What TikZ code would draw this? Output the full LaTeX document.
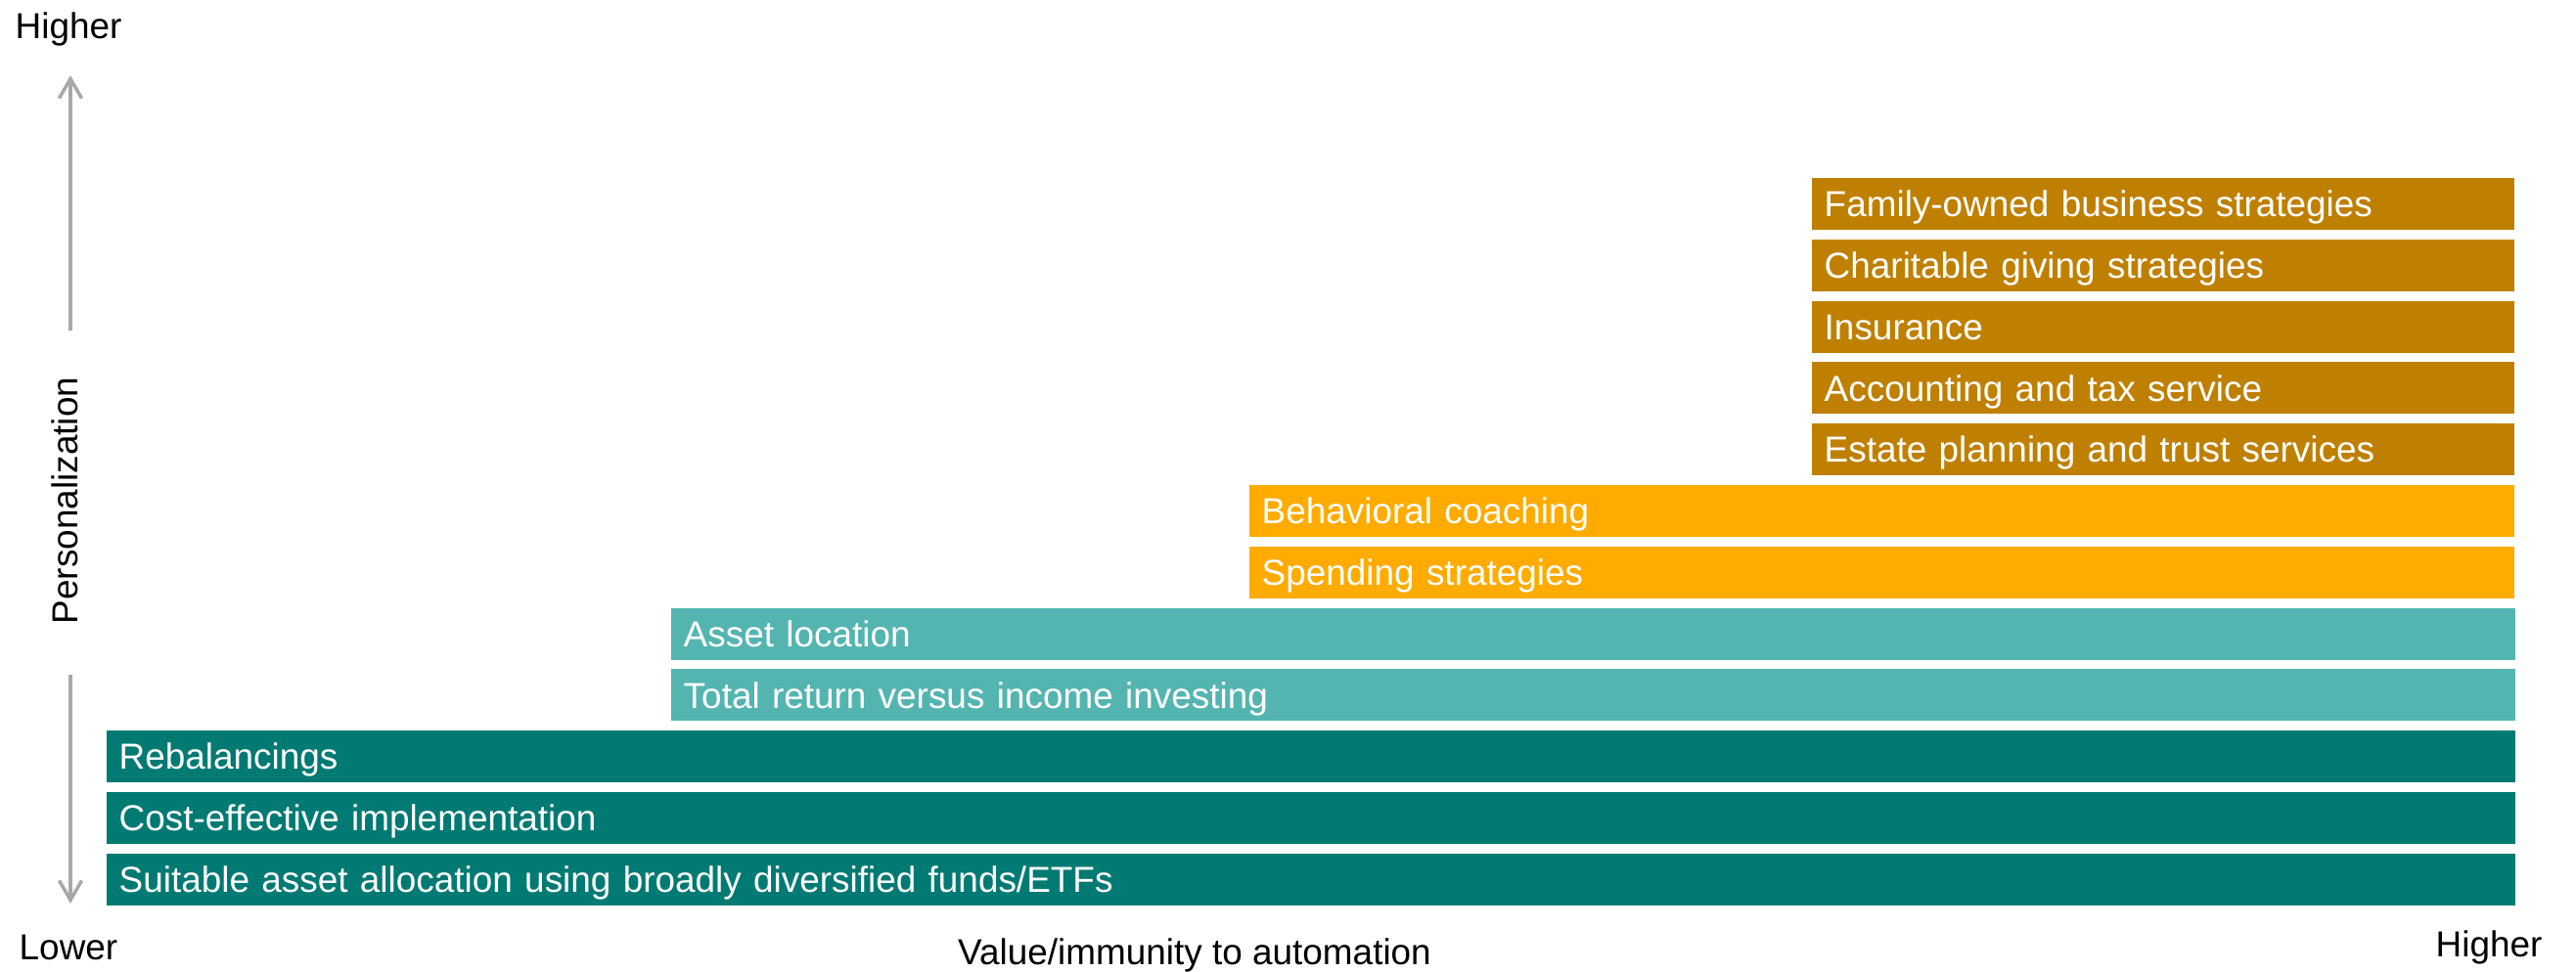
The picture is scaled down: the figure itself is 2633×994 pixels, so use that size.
\documentclass[tikz,border=0pt]{standalone}
\usepackage{fontspec}
\setmainfont{Liberation Sans}
\usepackage{xcolor}
\usetikzlibrary{arrows.meta}

\definecolor{basicteal}{RGB}{0,122,114}
\definecolor{lightteal}{RGB}{84,181,176}
\definecolor{coachorange}{RGB}{255,171,0}
\definecolor{estatebrown}{RGB}{191,128,0}
\definecolor{axisgray}{RGB}{168,168,168}

\tikzset{
	bar/.style={rectangle, anchor=north west, text=white, inner xsep=0.13cm,
		inner ysep=0pt, minimum height=0.53cm, text height=7.5pt, text depth=0pt,
		align=left},
	basic/.style={bar, fill=basicteal, text width=24.35cm},
	tax/.style={bar, fill=lightteal, text width=18.58cm},
	coach/.style={bar, fill=coachorange, text width=12.67cm},
	estate/.style={bar, fill=estatebrown, text width=6.92cm},
	axislabel/.style={inner sep=0pt},
	axisarrow/.style={draw=axisgray, line width=0.035cm,
		-{Straight Barb[length=0.2cm,width=0.23cm]}}
}

\begin{document}
\begin{tikzpicture}[x=0.01cm, y=-0.01cm, font=\fontsize{10.5pt}{13pt}\selectfont]
	\useasboundingbox (0,0) rectangle (2633,994);
	%
	% stacked service bars, bottom to top
	\node[basic] (alloc) at (108,872) {Suitable asset allocation using broadly diversified funds/ETFs};
	\node[basic] (cost) at (108,809.2) {Cost-effective implementation};
	\node[basic] (rebal) at (108,746.4) {Rebalancings};
	\node[tax] (total) at (685,683.6) {Total return versus income investing};
	\node[tax] (loc) at (685,620.8) {Asset location};
	\node[coach] (spend) at (1276,558) {Spending strategies};
	\node[coach] (behav) at (1276,495.2) {Behavioral coaching};
	\node[estate] (trust) at (1851,432.4) {Estate planning and trust services};
	\node[estate] (acct) at (1851,369.6) {Accounting and tax service};
	\node[estate] (insur) at (1851,306.8) {Insurance};
	\node[estate] (charity) at (1851,244) {Charitable giving strategies};
	\node[estate] (family) at (1851,181.2) {Family-owned business strategies};
	%
	% axes
	\node[axislabel, anchor=base west] (yhigh) at (15,40) {Higher};
	\node[axislabel, anchor=base west] (xlow) at (19,981) {Lower};
	\node[axislabel, anchor=base west] (xhigh) at (2489,978) {Higher};
	\node[axislabel, anchor=base] (xname) at (1221,986) {Value/immunity to automation};
	\node[axislabel, anchor=base, rotate=90] (yname) at (80,512) {Personalization};
	%
	\coordinate (upfrom) at (72,338);
	\coordinate (upto) at (72,77);
	\coordinate (dnfrom) at (72,690);
	\coordinate (dnto) at (72,924);
	\draw[axisarrow] (upfrom) -- (upto);
	\draw[axisarrow] (dnfrom) -- (dnto);
\end{tikzpicture}
\end{document}
